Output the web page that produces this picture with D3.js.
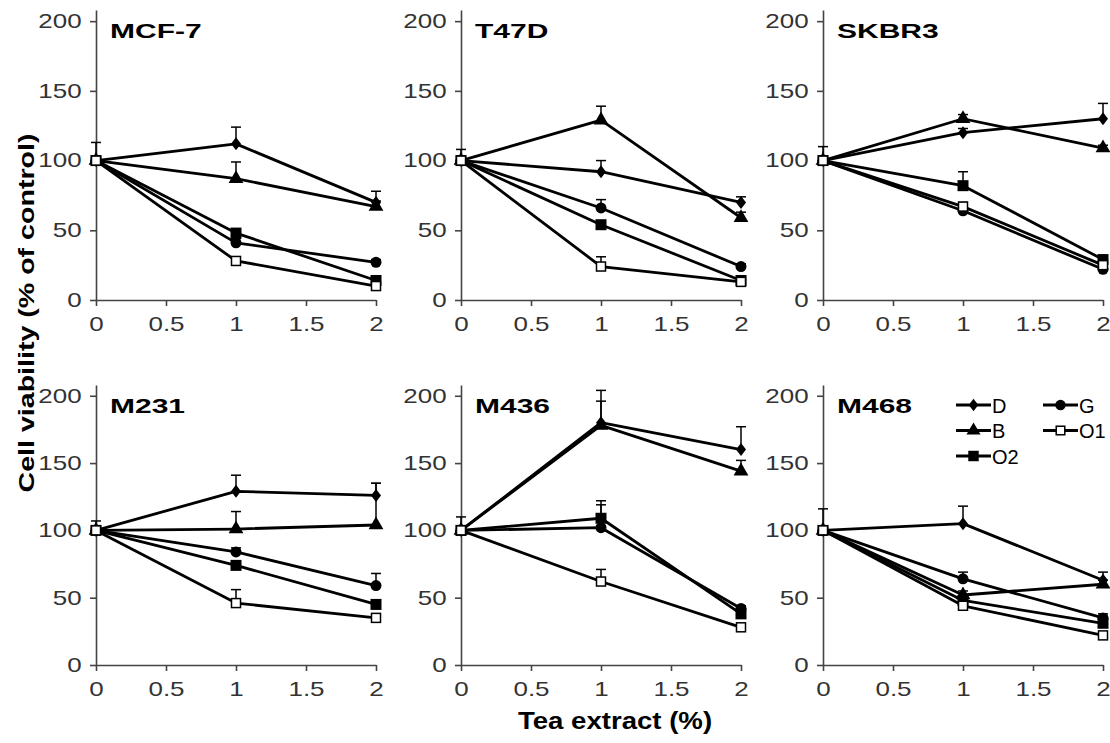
<!DOCTYPE html>
<html>
<head>
<meta charset="utf-8">
<script src="https://cdn.jsdelivr.net/npm/d3@7"></script>
<style>
  body { margin: 0; background: #fff; }
  text { font-family: "Liberation Sans", Arial, sans-serif; }
</style>
</head>
<body>
<div id="chart"></div>
<script>
const doses = [0, 1, 2];
const seriesNames = ["D", "B", "O2", "G", "O1"];
const cellLines = ["MCF-7", "T47D", "SKBR3", "M231", "M436", "M468"];
const yTicks = [0, 50, 100, 150, 200];
const xTicks = [0, 0.5, 1, 1.5, 2];

// mean viability, rows in order D, B, O2, G, O1
const mcf7   = [[100, 112, 70], [100, 87, 67], [100, 48, 14], [100, 41, 27], [100, 28, 10]];
const t47d   = [[100, 92, 70], [100, 129, 59], [100, 54, 14], [100, 66, 24], [100, 24, 13]];
const skbr3  = [[100, 120, 130], [100, 130, 109], [100, 82, 29], [100, 64, 22], [100, 67, 25]];
const m231   = [[100, 129, 126], [100, 101, 104], [100, 74, 45], [100, 84, 59], [100, 46, 35]];
const m436   = [[100, 180, 160], [100, 178, 144], [100, 109, 38], [100, 102, 42], [100, 62, 28]];
const m468   = [[100, 105, 63], [100, 52, 60], [100, 48, 31], [100, 64, 35], [100, 44, 22]];

// upper error bars
const mcf7Err  = [[13, 12, 8], [0, 12, 4], [0, 3, 3], [0, 3, 2], [0, 2, 3]];
const t47dErr  = [[8, 8, 4], [0, 10, 4], [0, 2, 2], [0, 6, 2], [0, 7, 2]];
const skbr3Err = [[10, 3, 11], [0, 3, 2], [0, 10, 2], [0, 2, 2], [0, 3, 2]];
const m231Err  = [[7, 12, 9], [0, 13, 31], [0, 3, 2], [0, 3, 9], [0, 10, 2]];
const m436Err  = [[10, 24, 17], [0, 18, 8], [0, 13, 3], [0, 17, 2], [0, 9, 2]];
const m468Err  = [[16, 13, 6], [0, 3, 3], [0, 3, 2], [0, 5, 3], [0, 3, 2]];

const allValues = [mcf7, t47d, skbr3, m231, m436, m468];
const allErrors = [mcf7Err, t47dErr, skbr3Err, m231Err, m436Err, m468Err];

const width = 1110, height = 743;
const colX = [96, 461, 823];
const plotW = 280;
const rows = [{ bottom: 300, top: 10 }, { bottom: 665, top: 385 }];
const stretch = 1.3;   // glyphs in the figure are wide along the baseline

const svg = d3.select("#chart")
  .append("svg")
  .attr("width", width)
  .attr("height", height);

const diamond = "M0,-6.5L5,0L0,6.5L-5,0Z";
function drawMarker(g, name, size) {
  const k = size || 1;
  if (name == "D") {
    g.append("path").attr("d", diamond).attr("transform", `scale(${k})`).attr("fill", "#000");
  } else if (name == "B") {
    g.append("path").attr("d", d3.symbol(d3.symbolTriangle, 95 * k * k)()).attr("fill", "#000");
  } else if (name == "O2") {
    g.append("rect").attr("x", -5.5 * k).attr("y", -5.5 * k).attr("width", 11 * k).attr("height", 11 * k).attr("fill", "#000");
  } else if (name == "G") {
    g.append("circle").attr("r", 5.5 * k).attr("fill", "#000");
  } else {
    g.append("rect").attr("x", -4.5 * k).attr("y", -4.5 * k).attr("width", 9 * k).attr("height", 9 * k)
      .attr("fill", "#fff").attr("stroke", "#000").attr("stroke-width", 1.5);
  }
}

cellLines.forEach((name, p) => {
  const row = rows[Math.floor(p / 3)];
  const x0 = colX[p % 3];
  const x = d3.scaleLinear().domain([0, 2]).range([x0, x0 + plotW]);
  const y = d3.scaleLinear().domain([0, 208]).range([row.bottom, row.top]);
  const vals = allValues[p], errs = allErrors[p];

  const g = svg.append("g");

  // axes
  const yAxis = g.append("g")
    .attr("transform", `translate(${x0},0)`)
    .call(d3.axisLeft(y).tickValues(yTicks).tickSize(6).tickSizeOuter(0).tickPadding(5));
  const xAxis = g.append("g")
    .attr("transform", `translate(0,${row.bottom})`)
    .call(d3.axisBottom(x).tickValues(xTicks).tickSize(6).tickSizeOuter(0).tickPadding(8).tickFormat(d => d));
  [yAxis, xAxis].forEach(a => {
    a.select(".domain").attr("stroke", "#444").attr("stroke-width", 1.6);
    a.selectAll(".tick line").attr("stroke", "#444").attr("stroke-width", 1.6);
    a.selectAll(".tick text")
      .attr("fill", "#333")
      .attr("font-size", 20)
      .attr("font-family", "'Liberation Sans', Arial, sans-serif")
      .attr("transform", `scale(${stretch},1)`);
  });
  xAxis.selectAll(".tick text").attr("dy", "0.85em");

  // panel title
  g.append("text")
    .attr("transform", `translate(${x0 + 14},${row.top + 28}) scale(1.5,1)`)
    .attr("font-weight", "bold")
    .attr("font-size", 20)
    .text(name);

  // error bars
  vals.forEach((series, s) => {
    series.forEach((v, i) => {
      const e = errs[s][i];
      if (!e) return;
      const cx = x(doses[i]);
      g.append("line").attr("x1", cx).attr("x2", cx).attr("y1", y(v)).attr("y2", y(v + e))
        .attr("stroke", "#000").attr("stroke-width", 1.5);
      g.append("line").attr("x1", cx - 5).attr("x2", cx + 5).attr("y1", y(v + e)).attr("y2", y(v + e))
        .attr("stroke", "#000").attr("stroke-width", 1.5);
    });
  });

  // lines
  const line = d3.line().x((d, i) => x(doses[i])).y(d => y(d));
  g.selectAll("path.series")
    .data(vals)
    .join("path")
    .attr("class", "series")
    .attr("d", line)
    .attr("fill", "none")
    .attr("stroke", "#000")
    .attr("stroke-width", 2.8)
    .attr("stroke-linejoin", "round");

  // markers (open squares last so they sit on top)
  [0, 1, 3, 2, 4].forEach(s => {
    vals[s].forEach((v, i) => {
      const m = g.append("g").attr("transform", `translate(${x(doses[i])},${y(v)})`);
      drawMarker(m, seriesNames[s]);
    });
  });

  // legend in last panel
  if (p == 5) {
    const legendCols = [["D", "B", "O2"], ["G", "O1"]];
    const legX = [956, 1043];
    legendCols.forEach((col, c) => {
      col.forEach((sname, r) => {
        const ly = 405 + r * 25.5;
        const lg = g.append("g").attr("transform", `translate(${legX[c]},${ly})`);
        lg.append("line").attr("x1", 0).attr("x2", 35).attr("stroke", "#000").attr("stroke-width", 3);
        const mk = lg.append("g").attr("transform", "translate(17.5,0)");
        drawMarker(mk, sname, 0.95);
        lg.append("text")
          .attr("transform", `translate(36,7.5)`)
          .attr("font-size", 20)
          .text(sname);
      });
    });
  }
});

// axis titles
svg.append("text")
  .attr("transform", `translate(34,313) rotate(-90) scale(${stretch},1)`)
  .attr("text-anchor", "middle")
  .attr("font-weight", "bold")
  .attr("font-size", 22)
  .text("Cell viability (% of control)");

svg.append("text")
  .attr("transform", `translate(615,729) scale(1.2,1)`)
  .attr("text-anchor", "middle")
  .attr("font-weight", "bold")
  .attr("font-size", 23)
  .text("Tea extract (%)");
</script>
</body>
</html>
